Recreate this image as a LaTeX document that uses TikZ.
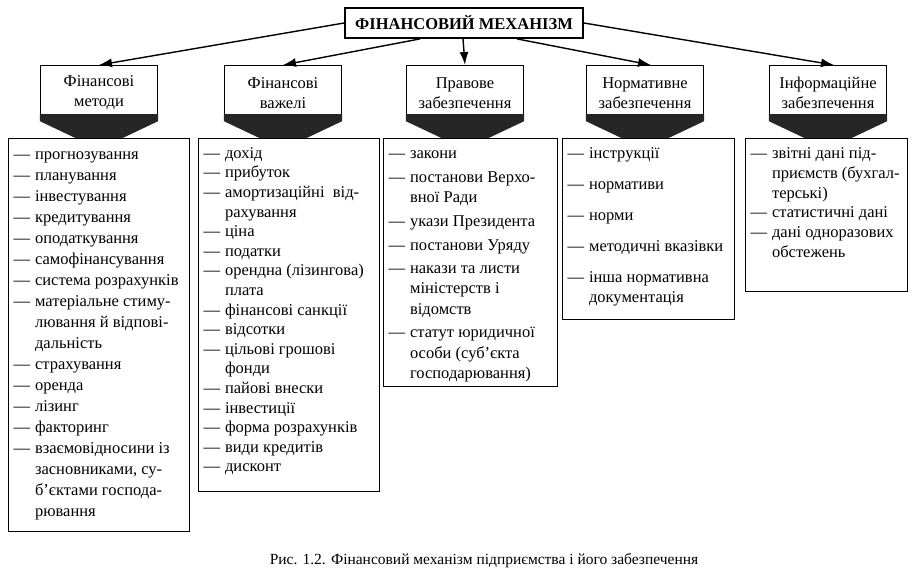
\documentclass[tikz,border=0pt]{standalone}
\usepackage{fontspec}
\setmainfont{Liberation Serif}
\usetikzlibrary{arrows.meta}
% one item of a list: dash, then text with a hanging indent
\newcommand{\itm}[1]{\par\noindent\hangindent=1.3em\hangafter=1\strut\makebox[1.3em][l]{—}{\let\\\newline#1}}

\begin{document}
\begin{tikzpicture}[x=1pt, y=-1pt, >={Latex[length=13pt,width=9pt]},
      titlenode/.style={draw, line width=1.8pt, fill=white, font=\fontsize{16.5}{19}\selectfont\bfseries, minimum width=238pt, minimum height=30pt},
      headnode/.style={draw, line width=1.2pt, fill=white, align=center, font=\fontsize{16.5}{20}\selectfont, minimum width=117pt, minimum height=55pt, anchor=north},
      headtip/.style={fill=black!85},
      listnode/.style={draw, line width=1.2pt, fill=white, anchor=north west, inner xsep=5pt, inner ysep=6pt, font=\fontsize{16.5}{21}\selectfont},
      flowarr/.style={->, line width=1.4pt}]
    \useasboundingbox (0,0) rectangle (917,578);

    \node[titlenode] (top) at (464,23) {ФІНАНСОВИЙ МЕХАНІЗМ};

    \node[headnode] (h1) at (99,65)  {Фінансові\\методи};
    \node[headnode] (h2) at (283,65) {Фінансові\\важелі};
    \node[headnode] (h3) at (465,65) {Правове\\забезпечення};
    \node[headnode] (h4) at (645,65) {Нормативне\\забезпечення};
    \node[headnode] (h5) at (828,65) {Інформаційне\\забезпечення};
    \foreach \h in {h1,h2,h3,h4,h5}
      \fill[headtip] ([yshift=7pt]\h.south west) -- ([yshift=7pt]\h.south east) -- (\h.south east)
        -- ([yshift=-28pt]\h.south) -- (\h.south west) -- cycle;

    \node[listnode] (l1) at (8,138) {\parbox[t][381pt][t]{171pt}{\raggedright
      \itm{прогнозування}
      \itm{планування}
      \itm{інвестування}
      \itm{кредитування}
      \itm{оподаткування}
      \itm{самофінансування}
      \itm{система розрахунків}
      \itm{матеріальне стиму-\\лювання й відпові-\\дальність}
      \itm{страхування}
      \itm{оренда}
      \itm{лізинг}
      \itm{факторинг}
      \itm{взаємовідносини із\\засновниками, су-\\б’єктами господа-\\рювання}}};
    \node[listnode, font=\fontsize{16.5}{19.6}\selectfont] (l2) at (198,138) {\parbox[t][341pt][t]{171pt}{\raggedright
      \itm{дохід}
      \itm{прибуток}
      \itm{амортизаційні\ \ від-\\рахування}
      \itm{ціна}
      \itm{податки}
      \itm{орендна (лізингова)\\плата}
      \itm{фінансові санкції}
      \itm{відсотки}
      \itm{цільові грошові\\фонди}
      \itm{пайові внески}
      \itm{інвестиції}
      \itm{форма розрахунків}
      \itm{види кредитів}
      \itm{дисконт}}};
    \node[listnode, font=\fontsize{16.5}{20.2}\selectfont] (l3) at (383,138) {\parbox[t][236pt][t]{164pt}{\raggedright\setlength{\parskip}{3.5pt}
      \itm{закони}
      \itm{постанови Верхо-\\вної Ради}
      \itm{укази Президента}
      \itm{постанови Уряду}
      \itm{накази та листи\\міністерств і\\відомств}
      \itm{статут юридичної\\особи (суб’єкта\\господарювання)}}};
    \node[listnode, font=\fontsize{16.5}{20}\selectfont] (l4) at (562,138) {\parbox[t][169pt][t]{162pt}{\raggedright\setlength{\parskip}{11pt}
      \itm{інструкції}
      \itm{нормативи}
      \itm{норми}
      \itm{методичні вказівки}
      \itm{інша нормативна\\документація}}};
    \node[listnode, font=\fontsize{16.5}{19.8}\selectfont] (l5) at (745,138) {\parbox[t][141pt][t]{152pt}{\raggedright
      \itm{звітні дані під-\\приємств (бухгал-\\терські)}
      \itm{статистичні дані}
      \itm{дані одноразових\\обстежень}}};

    \draw[flowarr] (top.west) -- (h1.north);
    \draw[flowarr] ([xshift=-44pt]top.south) -- (h2.north);
    \draw[flowarr] ([xshift=-1pt]top.south) -- (h3.north);
    \draw[flowarr] ([xshift=53pt]top.south) -- ([xshift=6pt]h4.north);
    \draw[flowarr] (top.east) -- ([xshift=6pt]h5.north);

    \node[font=\fontsize{15.5}{18}\selectfont] (cap) at (484,561) {Рис. 1.2. Фінансовий механізм підприємства і його забезпечення};
  \end{tikzpicture}
\end{document}
